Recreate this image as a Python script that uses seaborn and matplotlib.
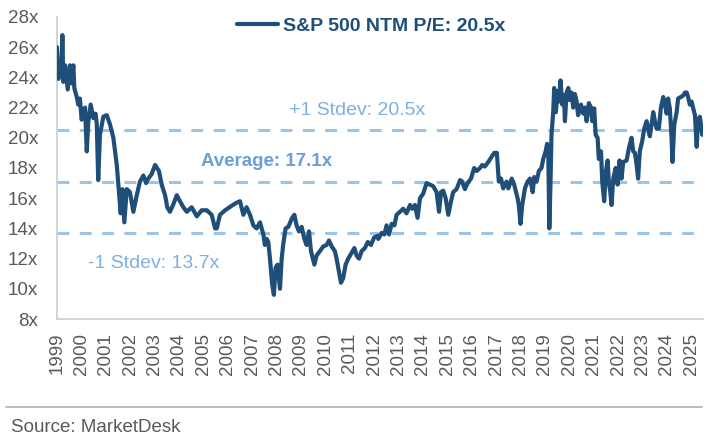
import matplotlib
matplotlib.use("Agg")
import matplotlib.pyplot as plt
from matplotlib.lines import Line2D
import seaborn as sns

# values (x = position on the labelled year axis)
years = [
    1999.00, 1999.06, 1999.12, 1999.18, 1999.22, 1999.26, 1999.33, 1999.44, 1999.53, 1999.60,
    1999.67, 1999.71, 1999.81, 1999.87, 1999.94, 2000.01, 2000.08, 2000.15, 2000.22, 2000.28,
    2000.38, 2000.49, 2000.58, 2000.63, 2000.69, 2000.76, 2000.90, 2001.04, 2001.17, 2001.31,
    2001.45, 2001.54, 2001.61, 2001.68, 2001.76, 2001.86, 2001.99, 2002.13, 2002.27, 2002.40,
    2002.54, 2002.65, 2002.74, 2002.88, 2003.02, 2003.18, 2003.29, 2003.43, 2003.52, 2003.63,
    2003.77, 2003.91, 2004.04, 2004.18, 2004.32, 2004.52, 2004.73, 2004.93, 2005.14, 2005.34,
    2005.48, 2005.55, 2005.68, 2005.89, 2006.16, 2006.36, 2006.50, 2006.64, 2006.77, 2006.91,
    2007.05, 2007.18, 2007.32, 2007.46, 2007.52, 2007.60, 2007.66, 2007.73, 2007.82, 2007.89,
    2007.96, 2008.04, 2008.14, 2008.21, 2008.27, 2008.37, 2008.48, 2008.64, 2008.73, 2008.82,
    2008.92, 2009.03, 2009.14, 2009.23, 2009.33, 2009.41, 2009.55, 2009.64, 2009.78, 2009.91,
    2010.05, 2010.15, 2010.26, 2010.39, 2010.46, 2010.56, 2010.64, 2010.73, 2010.83, 2010.94,
    2011.08, 2011.19, 2011.28, 2011.38, 2011.49, 2011.62, 2011.74, 2011.87, 2012.00, 2012.14,
    2012.17, 2012.31, 2012.42, 2012.51, 2012.61, 2012.72, 2012.83, 2012.92, 2013.06, 2013.19,
    2013.33, 2013.47, 2013.56, 2013.67, 2013.78, 2013.88, 2014.01, 2014.15, 2014.29, 2014.42,
    2014.56, 2014.66, 2014.74, 2014.83, 2014.93, 2015.04, 2015.15, 2015.24, 2015.38, 2015.52,
    2015.61, 2015.72, 2015.83, 2015.97, 2016.10, 2016.20, 2016.34, 2016.43, 2016.54, 2016.68,
    2016.82, 2016.92, 2017.03, 2017.11, 2017.20, 2017.29, 2017.43, 2017.50, 2017.64, 2017.74,
    2017.88, 2017.93, 2018.00, 2018.07, 2018.18, 2018.29, 2018.39, 2018.50, 2018.56, 2018.66,
    2018.75, 2018.86, 2018.93, 2019.03, 2019.09, 2019.14, 2019.18, 2019.23, 2019.27, 2019.34,
    2019.38, 2019.45, 2019.52, 2019.57, 2019.64, 2019.71, 2019.78, 2019.82, 2019.89, 2019.96,
    2020.02, 2020.09, 2020.16, 2020.23, 2020.30, 2020.36, 2020.48, 2020.57, 2020.64, 2020.71,
    2020.80, 2020.89, 2020.94, 2021.02, 2021.08, 2021.16, 2021.21, 2021.30, 2021.35, 2021.43,
    2021.50, 2021.57, 2021.62, 2021.68, 2021.73, 2021.80, 2021.90, 2021.98, 2022.06, 2022.14,
    2022.21, 2022.35, 2022.44, 2022.55, 2022.62, 2022.69, 2022.76, 2022.82, 2022.89, 2022.99,
    2023.07, 2023.17, 2023.23, 2023.30, 2023.37, 2023.44, 2023.51, 2023.58, 2023.67, 2023.75,
    2023.85, 2023.92, 2023.99, 2024.05, 2024.12, 2024.19, 2024.23, 2024.30, 2024.40, 2024.46,
    2024.57, 2024.67, 2024.74, 2024.81, 2024.87, 2024.94, 2025.01, 2025.08, 2025.15, 2025.22,
    2025.28, 2025.35, 2025.42, 2025.45,
]
pe = [
    26.0, 23.9, 25.0, 24.2, 26.8, 23.7, 24.8, 23.2, 24.8, 23.6,
    24.8, 23.3, 22.7, 22.2, 22.6, 21.2, 21.8, 22.0, 19.1, 21.0,
    22.2, 21.3, 21.6, 20.9, 17.2, 20.2, 21.4, 21.5, 20.9, 20.0,
    18.2, 16.4, 15.0, 16.6, 14.4, 16.6, 16.4, 15.1, 16.2, 17.1,
    17.5, 17.0, 17.3, 17.6, 18.2, 17.8, 16.9, 16.2, 15.4, 15.1,
    15.6, 16.2, 15.8, 15.4, 15.1, 15.4, 14.8, 15.2, 15.2, 14.9,
    14.0, 14.0, 14.9, 15.2, 15.5, 15.7, 15.8, 14.9, 15.4, 14.9,
    14.2, 14.0, 14.4, 13.6, 12.9, 13.3, 13.1, 12.0, 10.3, 9.6,
    11.4, 11.6, 10.0, 12.0, 12.9, 14.0, 14.1, 14.7, 14.9, 14.2,
    13.8, 14.1, 13.3, 12.9, 13.8, 12.5, 11.6, 12.2, 12.5, 12.8,
    12.9, 13.2, 12.8, 12.5, 12.0, 11.1, 10.4, 10.7, 11.6, 12.0,
    12.4, 12.7, 12.2, 12.0, 12.5, 12.7, 13.1, 12.9, 13.4, 13.5,
    13.3, 13.7, 13.6, 14.2, 13.6, 14.3, 14.2, 14.9, 15.1, 15.3,
    15.0, 15.55, 15.3, 15.55, 14.7, 16.0, 16.3, 17.0, 16.9, 16.8,
    16.4, 15.1, 16.4, 16.5, 16.0, 14.9, 15.8, 16.4, 16.6, 17.2,
    17.1, 16.6, 17.0, 17.3, 18.0, 17.8, 18.0, 18.2, 18.1, 18.4,
    18.75, 19.0, 19.0, 17.1, 17.3, 16.65, 17.1, 16.65, 17.3, 16.9,
    16.0, 15.55, 14.3, 15.55, 16.65, 17.1, 17.3, 16.4, 17.4, 17.1,
    17.8, 18.0, 18.6, 19.1, 19.6, 18.9, 14.0, 17.1, 20.2, 21.7,
    23.3, 21.7, 23.1, 22.4, 23.8, 22.2, 22.8, 21.1, 23.0, 23.3,
    22.5, 23.0, 22.0, 22.9, 22.4, 21.5, 22.2, 21.6, 22.0, 21.1,
    22.3, 22.0, 21.1, 21.95, 20.2, 20.0, 18.6, 19.1, 17.1, 15.8,
    17.8, 18.5, 17.1, 16.4, 15.55, 17.3, 18.0, 16.9, 18.5, 17.3,
    18.4, 18.5, 19.3, 20.0, 19.1, 19.0, 18.2, 17.3, 19.1, 19.8,
    20.6, 21.1, 20.6, 20.1, 20.85, 21.7, 21.1, 20.6, 20.6, 21.95,
    22.7, 22.2, 21.6, 22.6, 21.95, 20.0, 18.4, 20.85, 21.7, 22.6,
    22.7, 22.8, 23.0, 23.0, 22.7, 22.2, 22.4, 21.95, 21.5, 19.4,
    21.1, 21.4, 20.6, 20.2,
]
average = 17.1
plus_1sd = 20.5
minus_1sd = 13.7
year_ticks = list(range(1999, 2026))
pe_ticks = list(range(8, 29, 2))

sns.set_theme(style="white")
plt.rcParams["font.family"] = ["Liberation Sans", "DejaVu Sans"]

fig = plt.figure(figsize=(7.18, 4.45), dpi=100)
ax = fig.add_axes([57 / 718, 126 / 445, 646 / 718, 302 / 445])

dark = "#1F4E79"
light = "#9DC3E6"
grey = "#595959"

for lvl in [plus_1sd, average, minus_1sd]:
    ax.axhline(lvl, color=light, lw=2.2, linestyle=(0, (3.9, 3.4)), zorder=1)

sns.lineplot(x=years, y=pe, ax=ax, color=dark, lw=3, label="S&P 500 NTM P/E: 20.5x", zorder=3)

ax.set_xlim(1999, 2025.48)
ax.set_ylim(8, 28)
ax.set_xticks(year_ticks)
ax.set_xticklabels([str(y) for y in year_ticks], rotation=90)
ax.set_yticks(pe_ticks)
ax.set_yticklabels([f"{v}x" for v in pe_ticks])
ax.tick_params(axis="both", direction="out", length=4.5, width=1, color="#D0D0D0",
               labelcolor=grey, labelsize=13.5)
ax.tick_params(axis="y", pad=9)
ax.tick_params(axis="x", pad=5.5)
ax.set_xlabel("")
ax.set_ylabel("")
for side in ["top", "right"]:
    ax.spines[side].set_visible(False)
for side in ["left", "bottom"]:
    ax.spines[side].set_color("#D0D0D0")
    ax.spines[side].set_linewidth(1.3)

ax.text(2011.3, 21.5, "+1 Stdev: 20.5x", color="#7FB0E0", fontsize=14, ha="center", va="baseline")
ax.text(2007.6, 18.13, "Average: 17.1x", color="#6A9FD8", fontsize=13.5, fontweight="bold",
        ha="center", va="baseline")
ax.text(2002.98, 11.38, "-1 Stdev: 13.7x", color="#7FB0E0", fontsize=14, ha="center", va="baseline")

leg = ax.legend(loc="upper left", bbox_to_anchor=(237 / 718, 1 - 17 / 445), bbox_transform=fig.transFigure,
                frameon=False, fontsize=14, handlelength=2.1, handletextpad=0.25, borderpad=0,
                borderaxespad=0)
for t in leg.get_texts():
    t.set_color(dark)
    t.set_fontweight("bold")

fig.add_artist(Line2D([6 / 718, 702 / 718], [1 - 407 / 445, 1 - 407 / 445], color="#BFBFBF", lw=1.5,
                      transform=fig.transFigure))
fig.text(11 / 718, 1 - 432 / 445, "Source: MarketDesk", color=grey, fontsize=13.5, va="baseline")

fig.savefig("out.png", dpi=100)
